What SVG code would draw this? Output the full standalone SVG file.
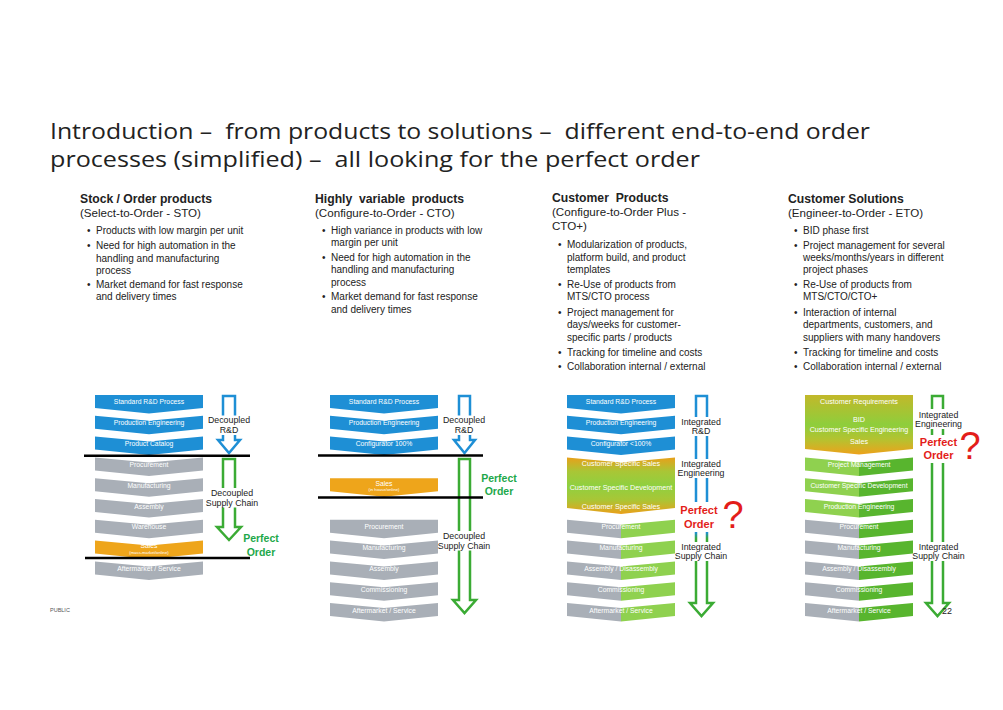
<svg xmlns="http://www.w3.org/2000/svg" xmlns:xlink="http://www.w3.org/1999/xlink" width="1003" height="710" viewBox="0 0 1003 710">
<style>
.title{font-family:"Open Sans","DejaVu Sans",sans-serif;font-size:22px;fill:#222;white-space:pre}
.hd{font-family:"Liberation Sans",Arial,sans-serif;font-size:12.2px;font-weight:bold;fill:#222;white-space:pre}
.sub{font-family:"Liberation Sans",Arial,sans-serif;font-size:11.6px;fill:#222}
.bt{font-family:"Liberation Sans",Arial,sans-serif;font-size:10px;fill:#222}
.lbl{font-family:"Liberation Sans",Arial,sans-serif;font-size:6.8px;fill:#fff;text-anchor:middle}
.lblS{font-family:"Liberation Sans",Arial,sans-serif;font-size:4.2px;fill:#fff;text-anchor:middle}
.lblB{font-family:"Liberation Sans",Arial,sans-serif;font-size:7.2px;fill:#fff;text-anchor:middle}
.al{font-family:"Liberation Sans",Arial,sans-serif;font-size:8.8px;fill:#222;text-anchor:middle}
.po{font-family:"Liberation Sans",Arial,sans-serif;font-size:10.5px;font-weight:bold;fill:#1ea84a;text-anchor:middle}
.pr{font-family:"Liberation Sans",Arial,sans-serif;font-size:11px;font-weight:bold;fill:#e31d1a;text-anchor:middle}
.q{font-family:"Liberation Sans",Arial,sans-serif;font-size:38px;fill:#e31d1a;text-anchor:middle}
.blue{fill:#1e8fd5}
.gray{fill:#a9afb7}
.orange{fill:#eea51b}
.lg{fill:#8fd14f}
.dg{fill:#58b52e}
.bar{stroke:#000;stroke-width:2.5}
.arB{fill:#fff;stroke:#1e8fd5;stroke-width:2.5}
.arG{fill:#fff;stroke:#3bab34;stroke-width:2.5}
.wb{fill:#fff}
</style>
<defs>
<path id="chevF" d="M0,0 H108 V13 L54,18.5 L0,13 Z"/>
<path id="chev" d="M0,0 L54,5 L108,0 V13 L54,18.5 L0,13 Z"/>
<path id="chevL" d="M0,0 L54,5 V18.5 L0,13 Z"/>
<path id="chevR" d="M54,5 L108,0 V13 L54,18.5 Z"/>
<linearGradient id="g3" x1="0" y1="0" x2="0" y2="1">
<stop offset="0" stop-color="#e8a01a"/>
<stop offset="0.25" stop-color="#a9c636"/>
<stop offset="0.5" stop-color="#8fd040"/>
<stop offset="0.75" stop-color="#a9c636"/>
<stop offset="1" stop-color="#eaa01a"/>
</linearGradient>
<linearGradient id="g4" x1="0" y1="0" x2="0" y2="1">
<stop offset="0" stop-color="#c2b82a"/>
<stop offset="0.5" stop-color="#8ece3c"/>
<stop offset="0.75" stop-color="#b5c230"/>
<stop offset="1" stop-color="#eda21b"/>
</linearGradient>
<linearGradient id="a3" gradientUnits="userSpaceOnUse" x1="0" y1="396" x2="0" y2="616">
<stop offset="0" stop-color="#1e8fd5"/>
<stop offset="0.62" stop-color="#1e8fd5"/>
<stop offset="0.65" stop-color="#3bab34"/>
<stop offset="1" stop-color="#3bab34"/>
</linearGradient>
</defs>
<rect width="1003" height="710" fill="#fff"/>

<g id="title">
<text class="title" xml:space="preserve" x="50" y="139" textLength="820" lengthAdjust="spacingAndGlyphs">Introduction –  from products to solutions –  different end-to-end order</text>
<text class="title" xml:space="preserve" x="50" y="167" textLength="650" lengthAdjust="spacingAndGlyphs">processes (simplified) –  all looking for the perfect order</text>
</g>

<g id="col1-text">
<text class="hd" x="80" y="203">Stock / Order products</text>
<text class="sub" x="80" y="217">(Select-to-Order - STO)</text>
<text class="bt" x="87" y="234">•</text><text class="bt" x="96" y="234">Products with low margin per unit</text>
<text class="bt" x="87" y="249">•</text><text class="bt" x="96" y="249">Need for high automation in the</text>
<text class="bt" x="96" y="261.5">handling and manufacturing</text>
<text class="bt" x="96" y="273.5">process</text>
<text class="bt" x="87" y="288">•</text><text class="bt" x="96" y="288">Market demand for fast response</text>
<text class="bt" x="96" y="300">and delivery times</text>
</g>

<g id="col2-text">
<text class="hd" xml:space="preserve" x="315" y="203">Highly  variable  products</text>
<text class="sub" x="315" y="217">(Configure-to-Order - CTO)</text>
<text class="bt" x="322" y="234">•</text><text class="bt" x="331" y="234">High variance in products with low</text>
<text class="bt" x="331" y="246">margin per unit</text>
<text class="bt" x="322" y="261">•</text><text class="bt" x="331" y="261">Need for high automation in the</text>
<text class="bt" x="331" y="273">handling and manufacturing</text>
<text class="bt" x="331" y="285.5">process</text>
<text class="bt" x="322" y="300">•</text><text class="bt" x="331" y="300">Market demand for fast response</text>
<text class="bt" x="331" y="312.5">and delivery times</text>
</g>

<g id="col3-text">
<text class="hd" xml:space="preserve" x="552" y="202">Customer  Products</text>
<text class="sub" x="552" y="216">(Configure-to-Order Plus -</text>
<text class="sub" x="552" y="230">CTO+)</text>
<text class="bt" x="558" y="248">•</text><text class="bt" x="567" y="248">Modularization of products,</text>
<text class="bt" x="567" y="260.5">platform build, and product</text>
<text class="bt" x="567" y="272.5">templates</text>
<text class="bt" x="558" y="288">•</text><text class="bt" x="567" y="288">Re-Use of products from</text>
<text class="bt" x="567" y="300">MTS/CTO process</text>
<text class="bt" x="558" y="315.5">•</text><text class="bt" x="567" y="315.5">Project management for</text>
<text class="bt" x="567" y="328">days/weeks for customer-</text>
<text class="bt" x="567" y="340.5">specific parts / products</text>
<text class="bt" x="558" y="355.5">•</text><text class="bt" x="567" y="355.5">Tracking for timeline and costs</text>
<text class="bt" x="558" y="370">•</text><text class="bt" x="567" y="370">Collaboration internal / external</text>
</g>

<g id="col4-text">
<text class="hd" x="788" y="203">Customer Solutions</text>
<text class="sub" x="788" y="217">(Engineer-to-Order - ETO)</text>
<text class="bt" x="794" y="233.5">•</text><text class="bt" x="803" y="233.5">BID phase first</text>
<text class="bt" x="794" y="249">•</text><text class="bt" x="803" y="249">Project management for several</text>
<text class="bt" x="803" y="261">weeks/months/years in different</text>
<text class="bt" x="803" y="273">project phases</text>
<text class="bt" x="794" y="287.5">•</text><text class="bt" x="803" y="287.5">Re-Use of products from</text>
<text class="bt" x="803" y="300">MTS/CTO/CTO+</text>
<text class="bt" x="794" y="315.5">•</text><text class="bt" x="803" y="315.5">Interaction of internal</text>
<text class="bt" x="803" y="328">departments, customers, and</text>
<text class="bt" x="803" y="340.5">suppliers with many handovers</text>
<text class="bt" x="794" y="355.5">•</text><text class="bt" x="803" y="355.5">Tracking for timeline and costs</text>
<text class="bt" x="794" y="370">•</text><text class="bt" x="803" y="370">Collaboration internal / external</text>
</g>

<!-- Column 1 process -->
<g id="c1-std"><use href="#chevF" class="blue" x="95" y="395"/><text class="lbl" x="149" y="404.3">Standard R&amp;D Process</text></g>
<g id="c1-prodeng"><use href="#chev" class="blue" x="95" y="415.8"/><text class="lbl" x="149" y="425.3">Production Engineering</text></g>
<g id="c1-catalog"><use href="#chev" class="blue" x="95" y="436.6"/><text class="lbl" x="149" y="446.1">Product Catalog</text></g>
<g id="c1-proc"><use href="#chev" class="gray" x="95" y="457.4"/><text class="lbl" x="149" y="466.9">Procurement</text></g>
<g id="c1-manu"><use href="#chev" class="gray" x="95" y="478.2"/><text class="lbl" x="149" y="487.7">Manufacturing</text></g>
<g id="c1-asm"><use href="#chev" class="gray" x="95" y="499"/><text class="lbl" x="149" y="508.5">Assembly</text></g>
<g id="c1-wh"><use href="#chev" class="gray" x="95" y="519.8"/><text class="lbl" x="149" y="529.3">Warehouse</text></g>
<g id="c1-sales"><use href="#chev" class="orange" x="95" y="540.6"/><text class="lbl" x="149" y="548.3">Sales</text><text class="lblS" x="149" y="553.6">(mass-market/online)</text></g>
<g id="c1-after"><use href="#chev" class="gray" x="95" y="561.4"/><text class="lbl" x="149" y="570.9">Aftermarket / Service</text></g>

<!-- Column 2 process -->
<g id="c2-std"><use href="#chevF" class="blue" x="330" y="395"/><text class="lbl" x="384" y="404.3">Standard R&amp;D Process</text></g>
<g id="c2-prodeng"><use href="#chev" class="blue" x="330" y="415.8"/><text class="lbl" x="384" y="425.3">Production Engineering</text></g>
<g id="c2-config"><use href="#chev" class="blue" x="330" y="436.6"/><text class="lbl" x="384" y="446.1">Configurator 100%</text></g>
<g id="c2-sales"><use href="#chevF" class="orange" x="330" y="478.2"/><text class="lbl" x="384" y="485.5">Sales</text><text class="lblS" x="384" y="490.6">(in house/online)</text></g>
<g id="c2-proc"><use href="#chevF" class="gray" x="330" y="519.8"/><text class="lbl" x="384" y="529.3">Procurement</text></g>
<g id="c2-manu"><use href="#chev" class="gray" x="330" y="540.6"/><text class="lbl" x="384" y="550.1">Manufacturing</text></g>
<g id="c2-asm"><use href="#chev" class="gray" x="330" y="561.4"/><text class="lbl" x="384" y="570.9">Assembly</text></g>
<g id="c2-comm"><use href="#chev" class="gray" x="330" y="582.2"/><text class="lbl" x="384" y="591.7">Commissioning</text></g>
<g id="c2-after"><use href="#chev" class="gray" x="330" y="603"/><text class="lbl" x="384" y="612.5">Aftermarket / Service</text></g>

<!-- Column 3 process -->
<g id="c3-std"><use href="#chevF" class="blue" x="567" y="395"/><text class="lbl" x="621" y="404.3">Standard R&amp;D Process</text></g>
<g id="c3-prodeng"><use href="#chev" class="blue" x="567" y="415.8"/><text class="lbl" x="621" y="425.3">Production Engineering</text></g>
<g id="c3-config"><use href="#chev" class="blue" x="567" y="436.6"/><text class="lbl" x="621" y="446.1">Configurator &lt;100%</text></g>
<g id="c3-cs">
<path d="M567,457.4 L621,462.4 L675,457.4 V508 L621,514 L567,508 Z" fill="url(#g3)"/>
<text class="lblB" x="621" y="466">Customer Specific Sales</text>
<text class="lblB" x="621" y="490">Customer Specific Development</text>
<text class="lblB" x="621" y="509">Customer Specific Sales</text>
</g>
<g id="c3-proc"><use href="#chevL" class="gray" x="567" y="519.8"/><use href="#chevR" class="lg" x="567" y="519.8"/><text class="lbl" x="621" y="529.3">Procurement</text></g>
<g id="c3-manu"><use href="#chevL" class="gray" x="567" y="540.6"/><use href="#chevR" class="lg" x="567" y="540.6"/><text class="lbl" x="621" y="550.1">Manufacturing</text></g>
<g id="c3-asm"><use href="#chevL" class="gray" x="567" y="561.4"/><use href="#chevR" class="lg" x="567" y="561.4"/><text class="lbl" x="621" y="570.9">Assembly / Disassembly</text></g>
<g id="c3-comm"><use href="#chevL" class="gray" x="567" y="582.2"/><use href="#chevR" class="lg" x="567" y="582.2"/><text class="lbl" x="621" y="591.7">Commissioning</text></g>
<g id="c3-after"><use href="#chevL" class="gray" x="567" y="603"/><use href="#chevR" class="lg" x="567" y="603"/><text class="lbl" x="621" y="612.5">Aftermarket / Service</text></g>

<!-- Column 4 process -->
<g id="c4-cs">
<path d="M805,395 H913 V449 L859,454.5 L805,449 Z" fill="url(#g4)"/>
<text class="lblB" x="859" y="404">Customer Requirements</text>
<text class="lblB" x="859" y="421.5">BID</text>
<text class="lblB" x="859" y="432">Customer Specific Engineering</text>
<text class="lblB" x="859" y="444">Sales</text>
</g>
<g id="c4-pm"><use href="#chevL" class="lg" x="805" y="457.4"/><use href="#chevR" class="dg" x="805" y="457.4"/><text class="lbl" x="859" y="466.9">Project Management</text></g>
<g id="c4-csd"><use href="#chevL" class="lg" x="805" y="478.2"/><use href="#chevR" class="dg" x="805" y="478.2"/><text class="lbl" x="859" y="487.7">Customer Specific Development</text></g>
<g id="c4-prodeng"><use href="#chevL" class="lg" x="805" y="499"/><use href="#chevR" class="dg" x="805" y="499"/><text class="lbl" x="859" y="508.5">Production Engineering</text></g>
<g id="c4-proc"><use href="#chevL" class="gray" x="805" y="519.8"/><use href="#chevR" class="dg" x="805" y="519.8"/><text class="lbl" x="859" y="529.3">Procurement</text></g>
<g id="c4-manu"><use href="#chevL" class="gray" x="805" y="540.6"/><use href="#chevR" class="dg" x="805" y="540.6"/><text class="lbl" x="859" y="550.1">Manufacturing</text></g>
<g id="c4-asm"><use href="#chevL" class="gray" x="805" y="561.4"/><use href="#chevR" class="dg" x="805" y="561.4"/><text class="lbl" x="859" y="570.9">Assembly / Disassembly</text></g>
<g id="c4-comm"><use href="#chevL" class="gray" x="805" y="582.2"/><use href="#chevR" class="dg" x="805" y="582.2"/><text class="lbl" x="859" y="591.7">Commissioning</text></g>
<g id="c4-after"><use href="#chevL" class="gray" x="805" y="603"/><use href="#chevR" class="dg" x="805" y="603"/><text class="lbl" x="859" y="612.5">Aftermarket / Service</text></g>

<!-- Connectors: phase arrows and decoupling lines -->
<g id="connectors">
<path class="arB" d="M223,396 H235 V440 H240 L229,453 L218,440 H223 Z"/>
<path class="arG" d="M223,459 H235 V527 H241 L229,540 L217,527 H223 Z"/>
<path class="arB" d="M459,396 H470 V440 H475 L464.5,453 L454,440 H459 Z"/>
<path class="arG" d="M459,459 H470 V600 H476 L464.5,613 L453,600 H459 Z"/>
<path d="M696,396 H707 V603 H713 L701.5,616 L690,603 H696 Z" fill="#fff" stroke="url(#a3)" stroke-width="2.5"/>
<path class="arG" d="M932,396 H943 V603 H949 L937.5,616 L926,603 H932 Z"/>
<line class="bar" x1="84" y1="455.7" x2="250" y2="455.7"/>
<line class="bar" x1="85" y1="558" x2="250" y2="558"/>
<line class="bar" x1="318" y1="455.5" x2="483" y2="455.5"/>
<line class="bar" x1="318" y1="497.5" x2="483" y2="497.5"/>
</g>

<g id="arrow-labels">
<rect class="wb" x="208" y="415.5" width="42" height="19.5"/>
<text class="al" x="229" y="423.3">Decoupled</text><text class="al" x="229" y="433">R&amp;D</text>
<rect class="wb" x="207" y="488" width="50" height="19.5"/>
<text class="al" x="232" y="496">Decoupled</text><text class="al" x="232" y="505.5">Supply Chain</text>
<text class="po" x="261" y="542">Perfect</text><text class="po" x="261" y="556">Order</text>

<rect class="wb" x="443" y="415.5" width="42" height="19.5"/>
<text class="al" x="464" y="423.3">Decoupled</text><text class="al" x="464" y="433">R&amp;D</text>
<rect class="wb" x="439" y="531" width="50" height="19.5"/>
<text class="al" x="464" y="539">Decoupled</text><text class="al" x="464" y="548.5">Supply Chain</text>
<text class="po" x="499" y="482">Perfect</text><text class="po" x="499" y="495">Order</text>

<rect class="wb" x="680" y="417" width="42" height="19"/>
<text class="al" x="701" y="425">Integrated</text><text class="al" x="701" y="434.3">R&amp;D</text>
<rect class="wb" x="677" y="459" width="48" height="19"/>
<text class="al" x="701" y="467">Integrated</text><text class="al" x="701" y="476.3">Engineering</text>
<rect class="wb" x="678" y="502" width="44" height="30"/>
<text class="pr" x="699" y="514">Perfect</text><text class="pr" x="699" y="528">Order</text>
<text class="q" x="733" y="528">?</text>
<rect class="wb" x="676" y="542" width="50" height="19"/>
<text class="al" x="701" y="550">Integrated</text><text class="al" x="701" y="559">Supply Chain</text>

<rect class="wb" x="915" y="409" width="47" height="20"/>
<text class="al" x="938.5" y="417.5">Integrated</text><text class="al" x="938.5" y="427">Engineering</text>
<rect class="wb" x="917" y="435" width="43" height="28"/>
<text class="pr" x="938.5" y="446">Perfect</text><text class="pr" x="938.5" y="459">Order</text>
<text class="q" x="970" y="459">?</text>
<rect class="wb" x="913" y="542" width="50" height="19"/>
<text class="al" x="938.5" y="550">Integrated</text><text class="al" x="938.5" y="559">Supply Chain</text>
</g>

<g id="footer">
<text x="50" y="612" font-family="Liberation Sans, Arial, sans-serif" font-size="5.5" fill="#555">PUBLIC</text>
<text x="947" y="614" font-family="Liberation Sans, Arial, sans-serif" font-size="9" fill="#222" text-anchor="middle">22</text>
</g>
</svg>
